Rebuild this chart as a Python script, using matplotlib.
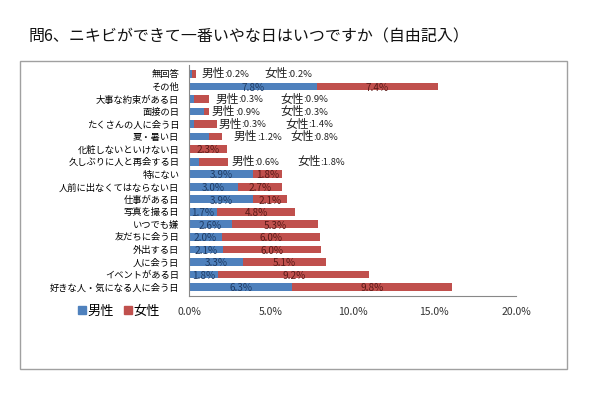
import numpy as np
import matplotlib.pyplot as plt
from matplotlib.patches import Rectangle, Patch

plt.rcParams['font.family'] = ['Noto Sans CJK JP', 'DejaVu Sans']

# データ（上から順）
categories = ['無回答', 'その他', '大事な約束がある日', '面接の日', 'たくさんの人に会う日',
              '夏・暑い日', '化粧しないといけない日', '久しぶりに人と再会する日', '特にない',
              '人前に出なくてはならない日', '仕事がある日', '写真を撮る日', 'いつでも嫌',
              '友だちに会う日', '外出する日', '人に会う日', 'イベントがある日',
              '好きな人・気になる人に会う日']
male = [0.2, 7.8, 0.3, 0.9, 0.3, 1.2, 0.0, 0.6, 3.9, 3.0, 3.9, 1.7, 2.6, 2.0, 2.1, 3.3, 1.8, 6.3]
female = [0.2, 7.4, 0.9, 0.3, 1.4, 0.8, 2.3, 1.8, 1.8, 2.7, 2.1, 4.8, 5.3, 6.0, 6.0, 5.1, 9.2, 9.8]
# 棒の外に注記する行: (行番号, 男性注記x, 女性注記x)
outside = [(0, 0.75, 4.6), (2, 1.6, 5.6), (3, 1.4, 5.6), (4, 1.8, 5.9), (5, 2.75, 6.2), (7, 2.6, 6.6)]
xticks = [0, 5, 10, 15, 20]

blue = '#4F81BD'
red = '#C0504D'

fig = plt.figure(figsize=(6, 3.98), dpi=100)
ax = fig.add_axes([0.315, 0.256, 0.545, 0.581])

n = len(categories)
y = np.arange(n)[::-1]
ax.barh(y, male, height=0.62, color=blue)
ax.barh(y, female, left=male, height=0.62, color=red)

skip = [r[0] for r in outside]
for i in range(n):
    if i in skip:
        continue
    if male[i] > 0:
        ax.text(male[i] / 2, y[i] - 0.1, f'{male[i]:.1f}%', ha='center', va='center',
                fontsize=7.2, color='#1F3B63')
    if female[i] > 0:
        ax.text(male[i] + female[i] / 2, y[i] - 0.1, f'{female[i]:.1f}%', ha='center', va='center',
                fontsize=7.2, color='#5A1A18')

for i, xm, xf in outside:
    for x0, lab, v in [(xm, '男性', male[i]), (xf, '女性', female[i])]:
        ax.text(x0, y[i], lab, ha='left', va='center', fontsize=8.5, color='#222222')
        ax.annotate(f':{v:.1f}%', (x0, y[i] - 0.05), xytext=(16.5, 0), textcoords='offset points',
                    ha='left', va='center', fontsize=6.8, color='#222222')

ax.set_xlim(0, 20)
ax.set_ylim(-0.72, n - 1 + 0.72)
ax.set_yticks(y)
ax.set_yticklabels(categories, fontsize=6.7)
ax.set_xticks(xticks)
ax.set_xticklabels([f'{t:.1f}%' for t in xticks], fontsize=7.5, color='#333333')
ax.tick_params(length=0, pad=8)
ax.tick_params(axis='y', pad=7)
for s in ['top', 'right']:
    ax.spines[s].set_visible(False)
ax.spines['left'].set_color('#888888')
ax.spines['bottom'].set_color('#888888')
ax.spines['left'].set_linewidth(0.8)
ax.spines['bottom'].set_linewidth(0.8)

handles = [Patch(color=blue, label='男性'), Patch(color=red, label='女性')]
fig.legend(handles=handles, loc='center', bbox_to_anchor=(0.198, 0.218), ncol=2, frameon=False,
           fontsize=9.5, handlelength=0.6, handleheight=0.6, handletextpad=0.1, columnspacing=0.8)

fig.patches.append(Rectangle((0.033, 0.073), 0.912, 0.774, transform=fig.transFigure,
                             fill=False, edgecolor='#A0A0A0', linewidth=1))

fig.text(0.048, 0.907, '問6、ニキビができて一番いやな日はいつですか（自由記入）', fontsize=11.5,
         ha='left', va='center', color='#111111')

fig.savefig('out.png', dpi=100)
